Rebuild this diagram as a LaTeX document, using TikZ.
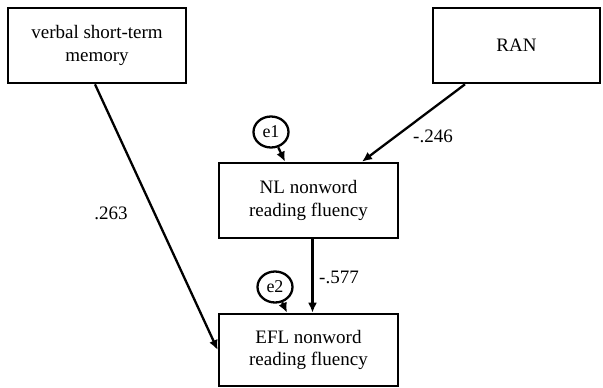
\documentclass[tikz,border=0pt]{standalone}
\usepackage{fontspec}
\setmainfont{Liberation Serif}
\newfontfamily\diagfont{Liberation Serif}
\usetikzlibrary{arrows.meta,calc,shapes.geometric}
\begin{document}
\begin{tikzpicture}[x=1pt,y=-1pt,
  varbox/.style={draw=black,line width=2.6pt,rectangle,inner sep=0pt,
    font=\diagfont\fontsize{19}{22.5}\selectfont,align=center},
  errnode/.style={draw=black,line width=2.3pt,ellipse,inner sep=0pt,
    minimum width=35pt,minimum height=31pt,font=\diagfont\fontsize{18}{20}\selectfont},
  pathline/.style={draw=black,line width=2.3pt,-{Latex[length=10pt,width=9pt]}},
  coef/.style={font=\diagfont\fontsize{19}{22}\selectfont,inner sep=0pt}]
\useasboundingbox (0,0) rectangle (603,388);
% observed variables
\node[varbox,minimum width=178pt,minimum height=75pt] (vstm) at (97,45.5)
  {verbal short-term\\memory};
\node[varbox,minimum width=167pt,minimum height=75pt] (ran) at (516.5,45.5) {RAN};
\node[varbox,minimum width=179pt,minimum height=75pt] (nl) at (308.5,200.5)
  {NL nonword\\reading fluency};
\node[varbox,minimum width=179pt,minimum height=72pt] (efl) at (308.5,350)
  {\raisebox{6pt}{\begin{tabular}{@{}c@{}}EFL nonword\\reading fluency\end{tabular}}};
% error terms
\node[errnode] (e1) at (271,132) {e1};
\node[errnode] (e2) at (275,287) {e2};
% paths
\draw[pathline] ([xshift=-51.5pt]ran.south) -- ([xshift=53.5pt]nl.north);
\draw[pathline] (e1) -- ([xshift=-23.5pt]nl.north);
\draw[pathline] ([xshift=4pt]nl.south) -- ([xshift=4pt]efl.north);
\draw[pathline] (e2) -- ([xshift=-21.5pt]efl.north);
\draw[pathline] ([xshift=-2pt]vstm.south) -- (efl.west);
% coefficients
\node[coef] (c1) at (433,136) {-.246};
\node[coef] (c2) at (339,277) {-.577};
\node[coef] (c3) at (111,213) {.263};
\end{tikzpicture}
\end{document}
